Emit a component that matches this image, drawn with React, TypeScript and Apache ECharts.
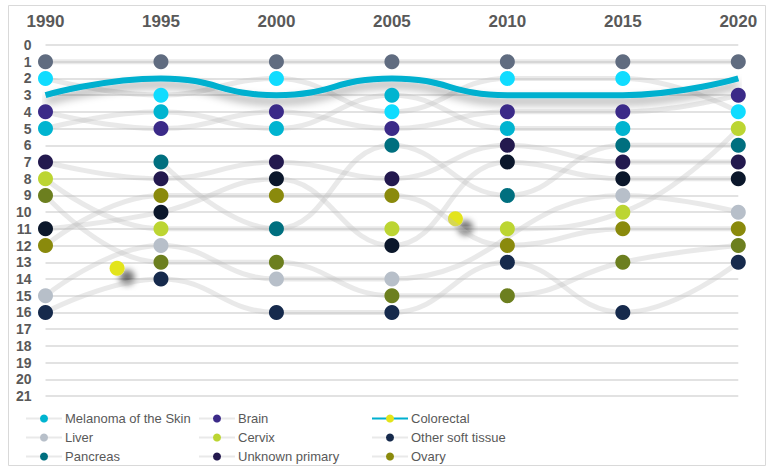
import React, { useEffect, useRef } from "react";
import * as echarts from "echarts";

const years = [1990, 1995, 2000, 2005, 2010, 2015, 2020];

// Ranks per series (null = not shown that year)
const topSeriesRanks = [1, 1, 1, 1, 1, 1, 1];
const brightCyanRanks = [2, 3, 2, 4, 2, 2, 4];
const melanomaRanks = [5, 4, 5, 3, 5, 5, null];
const brainRanks = [4, 5, 4, 5, 4, 4, 3];
const colorectalRanks = [3, 2, 3, 2, 3, 3, 2];
const liverRanks = [15, 12, 14, 14, null, 9, 10];
const cervixRanks = [8, 11, null, 11, 11, 10, 5];
const otherSoftTissueRanks = [16, 14, 16, 16, 13, 16, 13];
const pancreasRanks = [null, 7, 11, 6, 9, 6, 6];
const unknownPrimaryRanks = [7, 8, 7, 8, 6, 7, 7];
const ovaryRanks = [12, 9, 9, 9, 12, 11, 11];
const darkSeriesRanks = [11, 10, 8, 12, 7, 8, 8];
const oliveSeriesRanks = [9, 13, 13, 15, 15, 13, 12];

// Stray colorectal markers visible in the picture
const colorectalMarkerYears = [1993.1, 2007.75];
const colorectalMarkerRanks = [13.35, 10.4];

const seriesDefs = [
  { name: "Series A", ranks: topSeriesRanks, color: "#606c80" },
  { name: "Series B", ranks: brightCyanRanks, color: "#10dcff" },
  { name: "Melanoma of the Skin", ranks: melanomaRanks, color: "#00b4d0" },
  { name: "Brain", ranks: brainRanks, color: "#3b2a88" },
  { name: "Liver", ranks: liverRanks, color: "#b7bfc9" },
  { name: "Cervix", ranks: cervixRanks, color: "#bcd532" },
  { name: "Other soft tissue", ranks: otherSoftTissueRanks, color: "#162a4c" },
  { name: "Pancreas", ranks: pancreasRanks, color: "#006f7f" },
  { name: "Unknown primary", ranks: unknownPrimaryRanks, color: "#23194e" },
  { name: "Ovary", ranks: ovaryRanks, color: "#8a8a0c" },
  { name: "Series C", ranks: darkSeriesRanks, color: "#0b172b" },
  { name: "Series D", ranks: oliveSeriesRanks, color: "#6c7f1f" },
];

const LABEL = "#595959";
const legendFont = "'Liberation Sans Narrow', 'Arial Narrow', 'Liberation Sans', sans-serif";

export default function App() {
  const ref = useRef<HTMLDivElement>(null);
  useEffect(() => {
    if (!ref.current) return;
    const chart = echarts.init(ref.current, undefined, { renderer: "svg" });
    const toPts = (ranks: (number | null)[]) => years.map((y, i) => [y, ranks[i]]);
    const series: any[] = [];
    seriesDefs.forEach((s) => {
      series.push({
        type: "line",
        name: s.name,
        data: toPts(s.ranks),
        smooth: 0.45,
        connectNulls: true,
        symbol: "circle",
        showSymbol: false,
        z: 2,
        itemStyle: { color: s.color },
        lineStyle: { color: "rgba(190,190,190,0.34)", width: 5 },
        emphasis: { disabled: true },
      });
    });
    series.push({
      type: "line",
      name: "Colorectal",
      data: toPts(colorectalRanks),
      smooth: 0.5,
      symbol: "circle",
      showSymbol: false,
      z: 3,
      itemStyle: { color: "#e3e41a" },
      lineStyle: {
        color: "#00b0cf",
        width: 6,
        cap: "butt",
        shadowColor: "rgba(0,0,0,0.35)",
        shadowBlur: 8,
        shadowOffsetY: 6,
      },
      emphasis: { disabled: true },
    });
    seriesDefs.forEach((s) => {
      series.push({
        type: "scatter",
        name: s.name + " markers",
        data: toPts(s.ranks).filter((p) => p[1] !== null),
        symbolSize: 15,
        z: 5,
        itemStyle: { color: s.color, opacity: 1 },
        emphasis: { disabled: true },
      });
    });
    series.push({
      type: "scatter",
      name: "Colorectal markers",
      data: colorectalMarkerYears.map((y, i) => [y, colorectalMarkerRanks[i]]),
      symbolSize: 15,
      z: 1,
      itemStyle: {
        color: "#e3e41a",
        opacity: 1,
        shadowColor: "rgba(0,0,0,0.55)",
        shadowBlur: 6,
        shadowOffsetX: 10,
        shadowOffsetY: 9,
      },
      emphasis: { disabled: true },
    });

    const legendBase = {
      orient: "vertical",
      top: 412,
      padding: 0,
      itemWidth: 36,
      itemHeight: 10,
      itemGap: 6,
      selectedMode: false,
      textStyle: { color: LABEL, fontSize: 13, fontFamily: legendFont, padding: [0, 0, 0, -2] },
    };

    chart.setOption({
      animation: false,
      backgroundColor: "#ffffff",
      grid: { left: 45.5, right: 28.7, top: 45, bottom: 71 },
      xAxis: {
        type: "value",
        position: "top",
        min: 1990,
        max: 2020,
        interval: 5,
        axisLine: { show: false },
        axisTick: { show: false },
        splitLine: { show: false },
        axisLabel: {
          formatter: (v: number) => String(v),
          color: LABEL,
          fontWeight: "bold",
          fontSize: 17,
          fontFamily: "'Liberation Sans', Arial, sans-serif",
          margin: 15,
        },
      },
      yAxis: {
        type: "value",
        inverse: true,
        min: 0,
        max: 21,
        interval: 1,
        axisLine: { show: false },
        axisTick: { show: false },
        splitLine: { lineStyle: { color: "#d9d9d9", width: 1.5 } },
        axisLabel: {
          color: LABEL,
          fontWeight: "bold",
          fontSize: 14,
          fontFamily: "'Liberation Sans', Arial, sans-serif",
          margin: 14,
        },
      },
      legend: [
        { ...legendBase, left: 25, data: ["Melanoma of the Skin", "Liver", "Pancreas"] },
        { ...legendBase, left: 198, data: ["Brain", "Cervix", "Unknown primary"] },
        { ...legendBase, left: 371, data: ["Colorectal", "Other soft tissue", "Ovary"] },
      ],
      graphic: [
        {
          type: "rect",
          shape: { x: 8.5, y: 5.5, width: 757, height: 460 },
          style: { fill: "none", stroke: "#d9d9d9", lineWidth: 1 },
          silent: true,
          z: -1,
        },
      ],
      series,
    });
    return () => chart.dispose();
  }, []);
  return (
    <div
      ref={ref}
      style={{ position: "absolute", left: 0, top: 0, width: 767, height: 467 }}
    />
  );
}
